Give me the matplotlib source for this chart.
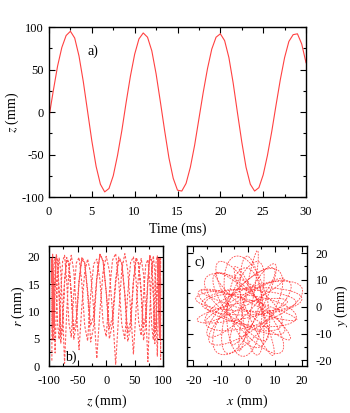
import matplotlib
matplotlib.use('Agg')
import matplotlib.pyplot as plt
from matplotlib.patches import Ellipse
from matplotlib.ticker import MultipleLocator

plt.rcParams['font.family'] = ['Liberation Serif', 'DejaVu Serif']
plt.rcParams['mathtext.fontset'] = 'stix'
plt.rcParams['axes.unicode_minus'] = False

# ---------------- data ----------------
# panel a: z(t)
t_ms = [0, 0.5, 1, 1.5, 2, 2.5, 3, 3.5, 4, 4.5, 5, 5.5, 6, 6.5, 7, 7.5, 8, 8.5, 9, 9.5,
        10, 10.5, 11, 11.5, 12, 12.5, 13, 13.5, 14, 14.5, 15, 15.5, 16, 16.5, 17, 17.5,
        18, 18.5, 19, 19.5, 20, 20.5, 21, 21.5, 22, 22.5, 23, 23.5, 24, 24.5, 25, 25.5,
        26, 26.5, 27, 27.5, 28, 28.5, 29, 29.5, 30]
z_mm = [-6, 25, 54, 76, 90, 95, 87, 66, 36, 1, -34, -64, -85, -94, -90, -75, -51, -22, 11, 42,
        68, 86, 93, 88, 72, 45, 12, -22, -54, -78, -92, -93, -84, -65, -39, -8,
        23, 51, 74, 88, 92, 84, 64, 34, -1, -35, -65, -85, -93, -89, -74, -51,
        -23, 8, 38, 64, 83, 91, 92, 80, 58]

# panel b: r vs z, one z sweep per pass (passes alternate direction)
z_sweep = [-95, -94.8, -94.4, -93.6, -92.4, -91.0, -89.3, -87.2, -84.9, -82.3, -79.4,
           -76.2, -72.8, -69.1, -65.2, -61.1, -56.7, -52.2, -47.5, -42.6, -37.6, -32.5,
           -27.2, -21.9, -16.5, -11.0, -5.5, 0,
           5.5, 11.0, 16.5, 21.9, 27.2, 32.5, 37.6, 42.6, 47.5, 52.2, 56.7, 61.1, 65.2,
           69.1, 72.8, 76.2, 79.4, 82.3, 84.9, 87.2, 89.3, 91.0, 92.4, 93.6, 94.4, 94.8, 95]
r_pass1 = [1.0, 10.0, 17.3, 20.5, 17.2, 10.1, 2.4, 10.6, 17.1, 19.8, 17.3, 9.9,
           0.5, 9.8, 17.5, 20.3, 17.4, 10.2, 3.0, 11.0, 17.2, 19.6, 17.0, 10.4,
           1.4, 10.1, 17.3, 20.1, 17.5, 9.8, 0.3, 9.7, 17.6, 20.6, 17.6, 10.3,
           2.2, 10.5, 17.0, 19.7, 16.9, 10.0, 0.8, 10.0, 17.4, 20.2, 17.3, 10.1,
           1.8, 10.3, 17.2, 19.9, 17.2, 9.9, 1.2]
r_pass2 = [15.8, 8.9, 6.8, 13.6, 18.9, 19.7, 15.6, 8.6, 6.3, 13.4, 19.1, 20.2,
           16.0, 9.2, 7.1, 13.8, 18.7, 19.4, 15.5, 8.4, 6.0, 13.3, 19.0, 20.0,
           15.9, 9.0, 6.9, 13.7, 19.2, 20.5, 16.2, 9.3, 7.4, 13.9, 18.8, 19.6,
           15.7, 8.8, 6.5, 13.5, 18.9, 19.9, 15.4, 8.3, 5.8, 13.2, 19.3, 20.4,
           16.1, 9.1, 7.0, 13.8, 18.8, 19.5, 15.8]
r_pass3 = [15.4, 19.7, 18.8, 13.1, 4.6, 7.4, 15.2, 20.2, 19.1, 13.3, 4.2, 7.1,
           15.6, 19.5, 18.6, 12.9, 4.9, 7.6, 15.3, 20.0, 19.0, 13.2, 4.4, 7.3,
           15.7, 20.5, 19.3, 13.4, 5.0, 7.8, 15.1, 19.6, 18.7, 13.0, 4.5, 7.0,
           15.5, 19.9, 18.9, 13.1, 4.7, 7.5, 15.3, 20.3, 19.2, 13.3, 4.1, 7.2,
           15.6, 19.8, 18.8, 13.0, 4.8, 7.4, 15.4]
r_pass4 = [19.7, 18.8, 13.2, 5.2, 7.8, 15.5, 20.2, 19.1, 13.4, 4.8, 7.5, 15.3,
           19.5, 18.6, 13.0, 5.6, 8.1, 15.7, 20.0, 19.0, 13.3, 5.0, 7.6, 15.4,
           20.6, 19.4, 13.5, 5.4, 8.0, 15.8, 19.6, 18.7, 13.1, 4.6, 7.4, 15.2,
           19.9, 18.9, 13.2, 5.3, 7.9, 15.6, 20.3, 19.2, 13.4, 4.9, 7.7, 15.5,
           19.8, 18.8, 13.1, 5.1, 7.8, 15.4, 19.7]
r_passes = [r_pass1, r_pass2, r_pass3, r_pass4]

# panel c: x-y orbit loops (centre, full axes, orientation)
loop_cx = [1.5, -2.0, 2.2, -1.0, 0.8, -2.5, 0.0, 2.0, -1.8, 0.3, -1.2,
           1.6, -0.3, 2.4, -2.0, 0.2, 1.9, -1.6, -2.3, 0.4, 1.1, -0.7]
loop_cy = [2.0, -1.5, 0.3, 2.5, -2.2, 1.6, -1.8, 0.9, -0.3, 2.2, -2.0,
           0.4, 1.8, -1.6, 2.1, -2.4, 0.2, 1.7, -1.9, 0.5, -1.4, 2.3]
loop_w = [37, 34, 38, 33, 37, 35, 38, 34, 36, 38, 33,
          37, 35, 36, 34, 38, 37, 33, 35, 37, 34, 37]
loop_h = [10, 6, 14, 4, 12, 9, 16, 7, 11, 3, 13,
          8, 15, 5, 10, 12, 6, 14, 9, 4, 11, 8]
loop_ang = [3, 12, 20, 29, 37, 46, 54, 62, 71, 80, 88,
            96, 104, 113, 121, 130, 138, 147, 155, 163, 171, 178]

# ---------------- figure ----------------
fig = plt.figure(figsize=(3.5, 4.13), dpi=100)
FS = 9
LFS = 10
RED = '#ff2020'


def style(ax, xpad=6.5, ypad=3.5):
    ax.tick_params(which='both', direction='in', top=True, right=True,
                   labelsize=FS, width=0.8)
    ax.tick_params(which='major', length=4)
    ax.tick_params(which='minor', length=2)
    ax.tick_params(axis='x', which='major', pad=xpad)
    ax.tick_params(axis='y', which='major', pad=ypad)
    for s in ax.spines.values():
        s.set_linewidth(1.0)


# panel a
axA = fig.add_axes([0.14, 0.523, 0.7343, 0.4116])
axA.plot(t_ms, z_mm, color=RED, lw=0.8, alpha=0.85)
axA.set_xlim(0, 30)
axA.set_ylim(-100, 100)
axA.xaxis.set_major_locator(MultipleLocator(5))
axA.xaxis.set_minor_locator(MultipleLocator(2.5))
axA.yaxis.set_major_locator(MultipleLocator(50))
axA.yaxis.set_minor_locator(MultipleLocator(25))
style(axA, xpad=6.5, ypad=3.5)
axA.set_xlabel('Time (ms)', fontsize=LFS, labelpad=3)
axA.set_ylabel('$z$ (mm)', fontsize=LFS, labelpad=0)
axA.text(4.5, 72, 'a)', fontsize=LFS, va='center', ha='left')

# panel b
axB = fig.add_axes([0.14, 0.1138, 0.327, 0.2905])
zz = []
rr = []
for i, rp in enumerate(r_passes):
    zs = z_sweep if i % 2 == 0 else z_sweep[::-1]
    zz.extend(zs)
    rr.extend(rp)
axB.plot(zz, rr, color=RED, lw=0.8, alpha=0.75, dashes=(2.2, 1.4))
axB.set_xlim(-100, 100)
axB.set_ylim(0, 22)
axB.xaxis.set_major_locator(MultipleLocator(50))
axB.xaxis.set_minor_locator(MultipleLocator(25))
axB.yaxis.set_major_locator(MultipleLocator(5))
axB.yaxis.set_minor_locator(MultipleLocator(2.5))
style(axB, xpad=6.5, ypad=6.5)
axB.set_xlabel('$z$ (mm)', fontsize=LFS, labelpad=4)
axB.set_ylabel('$r$ (mm)', fontsize=LFS, labelpad=0.5)
axB.text(-72, 1.6, 'b)', fontsize=LFS, va='center', ha='left')

# panel c
axC = fig.add_axes([0.535, 0.1138, 0.341, 0.2905])
for cx, cy, w, h, a in zip(loop_cx, loop_cy, loop_w, loop_h, loop_ang):
    axC.add_patch(Ellipse((cx, cy), w, h, angle=a, fill=False, edgecolor=RED,
                          lw=0.65, alpha=0.75, linestyle=(0, (2.0, 1.2))))
axC.set_xlim(-22.3, 21.7)
axC.set_ylim(-22.1, 22.6)
axC.xaxis.set_major_locator(MultipleLocator(10))
axC.xaxis.set_minor_locator(MultipleLocator(5))
axC.yaxis.set_major_locator(MultipleLocator(10))
axC.yaxis.set_minor_locator(MultipleLocator(5))
style(axC, xpad=6.5, ypad=6.5)
axC.tick_params(labelleft=False, labelright=True)
axC.yaxis.set_label_position('right')
axC.set_xlabel('$x$ (mm)', fontsize=LFS, labelpad=4)
axC.set_ylabel('$y$ (mm)', fontsize=LFS, labelpad=0.5)
axC.text(-19.5, 16.5, 'c)', fontsize=LFS, va='center', ha='left')

fig.savefig('out.png', dpi=100)
